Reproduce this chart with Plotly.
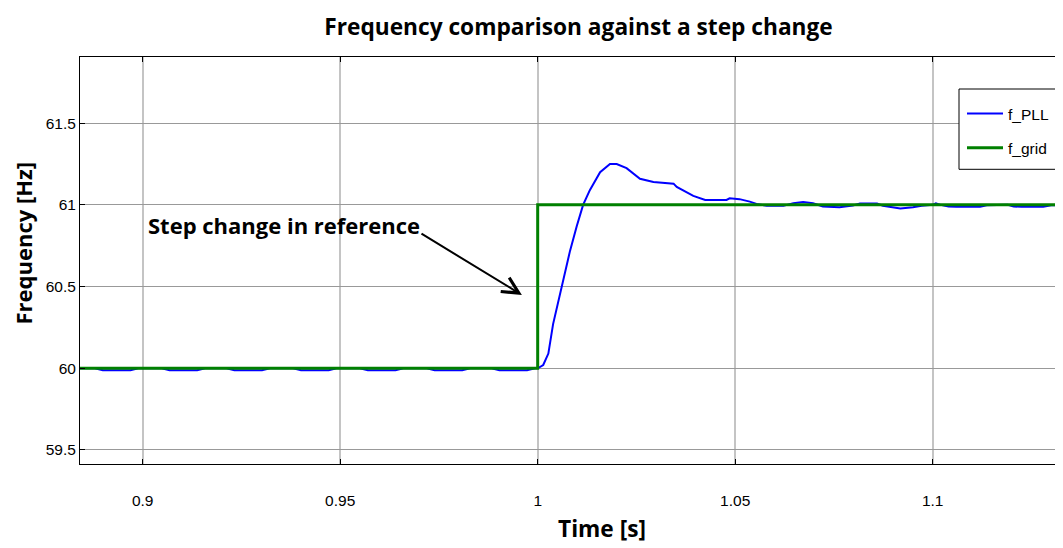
import plotly.graph_objects as go

# ---- data ----
t_pll = [0.8800, 0.8879, 0.8899, 0.8969, 0.8989,
         0.9048, 0.9068, 0.9138, 0.9158,
         0.9212, 0.9232, 0.9302, 0.9322,
         0.9381, 0.9401, 0.9471, 0.9491,
         0.9550, 0.9570, 0.9640, 0.9660,
         0.9719, 0.9739, 0.9809, 0.9829,
         0.9883, 0.9903, 0.9973, 0.9993, 1.0000,
         1.0014, 1.0027, 1.0039, 1.0061, 1.0082, 1.0099, 1.0115, 1.0132,
         1.0158, 1.0183, 1.0200, 1.0225, 1.0259, 1.0293, 1.0344, 1.0352,
         1.0394, 1.0424, 1.0478, 1.0486, 1.0511, 1.0537, 1.0554, 1.0580,
         1.0622, 1.0647, 1.0672, 1.0697, 1.0722, 1.0764, 1.0798,
         1.0816, 1.0859, 1.0874, 1.0900, 1.0918, 1.0950, 1.0972,
         1.1000, 1.1008, 1.1020, 1.1040, 1.1060, 1.1120, 1.1137,
         1.1160, 1.1190, 1.1205, 1.1225, 1.1280, 1.1300, 1.1330, 1.1350]
f_pll = [60.000, 60.000, 59.988, 59.988, 60.000,
         60.000, 59.988, 59.988, 60.000,
         60.000, 59.988, 59.988, 60.000,
         60.000, 59.988, 59.988, 60.000,
         60.000, 59.988, 59.988, 60.000,
         60.000, 59.988, 59.988, 60.000,
         60.000, 59.988, 59.988, 60.000, 60.000,
         60.020, 60.090, 60.270, 60.500, 60.720, 60.870, 61.000, 61.090,
         61.200, 61.250, 61.250, 61.225, 61.160, 61.140, 61.130, 61.110,
         61.055, 61.030, 61.030, 61.040, 61.035, 61.020, 61.006, 60.994,
         60.994, 61.010, 61.017, 61.010, 60.990, 60.986, 60.996,
         61.008, 61.008, 60.995, 60.985, 60.978, 60.986, 60.995,
         61.000, 61.010, 61.000, 60.990, 60.988, 60.988, 60.997,
         61.000, 61.000, 60.990, 60.988, 60.988, 60.997, 61.000, 61.000]

t_grid = [0.8800, 1.0000, 1.0000, 1.1350]
f_grid = [60.0, 60.0, 61.0, 61.0]

x_ticks = [0.9, 0.95, 1.0, 1.05, 1.1]
x_tick_text = ["0.9", "0.95", "1", "1.05", "1.1"]
y_ticks = [59.5, 60.0, 60.5, 61.0, 61.5]
y_tick_text = ["59.5", "60", "60.5", "61", "61.5"]

title_text = "Frequency comparison against a step change"
x_title = "Time [s]"
y_title = "Frequency [Hz]"
note_text = "Step change in reference"

# ---- figure ----
# The page body has an 8px default margin: the figure is sized to fit the
# 1063x548 window after that offset, and page pixel targets are shifted by 8.
OFF = 8
W, H = 1063 - OFF, 548 - OFF
L, R, T, B = 80 - OFF, 0, 57 - OFF, 548 - 464
tick_font = dict(family="Liberation Sans, Arial", size=15.5, color="black")
bold_font = "Open Sans, Arial"

fig = go.Figure()
fig.add_trace(go.Scatter(x=t_pll, y=f_pll, mode="lines", name="f_PLL",
                         line=dict(color="#0000FF", width=2), legendgroup="a"))
fig.add_trace(go.Scatter(x=t_grid, y=f_grid, mode="lines", name="f_grid",
                         line=dict(color="#008000", width=3), legendgroup="b"))

def px2paper_x(px):  # page pixel -> paper fraction
    return (px - OFF - L) / (W - L - R)

def px2paper_y(py):
    return (H - B - (py - OFF)) / (H - T - B)

fig.update_layout(
    width=W, height=H,
    margin=dict(l=L, r=R, t=T, b=B, pad=0, autoexpand=False),
    paper_bgcolor="white", plot_bgcolor="white",
    showlegend=True,
    title=dict(text="<b>" + title_text + "</b>", x=(578.5 - OFF) / W, y=1 - (27 - OFF) / H,
               xref="container", yref="container", xanchor="center", yanchor="middle",
               font=dict(family=bold_font, size=22.7, color="black")),
    legend=dict(x=px2paper_x(962), y=px2paper_y(97), xanchor="left", yanchor="top",
                borderwidth=0, bgcolor="rgba(0,0,0,0)",
                font=tick_font, tracegroupgap=11, itemwidth=36),
    xaxis=dict(range=[0.88413, 1.13299], tickvals=x_ticks, ticktext=x_tick_text,
               showgrid=True, gridcolor="#c4c4c4", gridwidth=1.5, automargin=False,
               showline=True, linecolor="black", linewidth=1, mirror="ticks",
               ticks="inside", ticklen=5, tickcolor="black",
               tickfont=tick_font, ticklabelstandoff=22, zeroline=False),
    yaxis=dict(range=[59.414, 61.905], tickvals=y_ticks, ticktext=y_tick_text,
               showgrid=True, gridcolor="#999999", gridwidth=1, automargin=False,
               showline=True, linecolor="black", linewidth=1, mirror="ticks",
               ticks="inside", ticklen=5, tickcolor="black",
               tickfont=tick_font, ticklabelstandoff=0, zeroline=False),
)

# legend frame
fig.add_shape(type="rect", xref="paper", yref="paper",
              x0=px2paper_x(959), x1=px2paper_x(1057.7),
              y0=px2paper_y(169.3), y1=px2paper_y(89),
              line=dict(color="black", width=1), fillcolor="white", layer="above")

# axis titles
fig.add_annotation(text="<b>" + x_title + "</b>", xref="paper", yref="paper",
                   x=px2paper_x(601.5), y=px2paper_y(528), showarrow=False,
                   xanchor="center", yanchor="middle",
                   font=dict(family=bold_font, size=22.7, color="black"))
fig.add_annotation(text="<b>" + y_title + "</b>", xref="paper", yref="paper",
                   x=px2paper_x(22.5), y=px2paper_y(243), showarrow=False, textangle=-90,
                   xanchor="center", yanchor="middle",
                   font=dict(family=bold_font, size=22, color="black"))

# note + arrow
fig.add_annotation(text="<b>" + note_text + "</b>", xref="x", yref="y",
                   x=0.9008, y=60.878, showarrow=False, xanchor="left", yanchor="middle",
                   font=dict(family=bold_font, size=22, color="black"))
fig.add_annotation(text="", xref="x", yref="y", x=0.9960, y=60.449,
                   axref="x", ayref="y", ax=0.9702, ay=60.829,
                   showarrow=True, arrowhead=5, arrowsize=1.6, arrowwidth=2,
                   arrowcolor="black", standoff=0)

fig.write_html("out.html")
